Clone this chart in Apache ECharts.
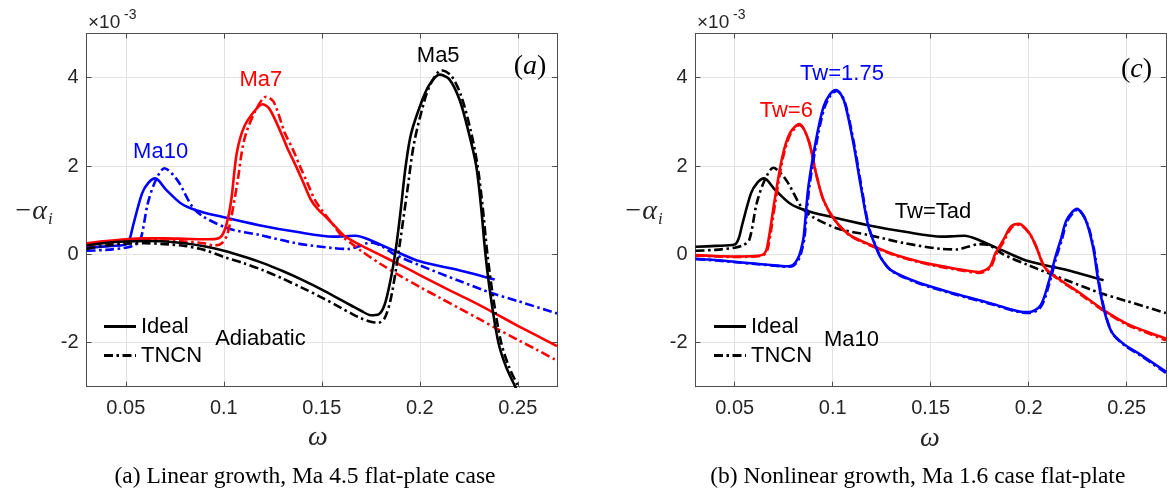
<!DOCTYPE html>
<html><head><meta charset="utf-8">
<script src="https://cdn.jsdelivr.net/npm/echarts@6.0.0/dist/echarts.min.js"></script>
<style>html,body{margin:0;padding:0;background:#fff}#c{width:1167px;height:497px}</style>
</head><body><div id="c"></div>
<script>
// ---------- data (values ×10^-3) ----------
// Panel (a): Linear growth, Ma 4.5 flat-plate, adiabatic
const ma5IdealX = [0.03,0.04,0.05,0.06,0.07,0.08,0.09,0.1,0.11,0.12,0.13,0.14,0.15,0.16,0.165,0.17,0.175,0.179,0.182,0.185,0.1877,0.19,0.1928,0.1956,0.2013,0.205,0.21,0.215,0.2203,0.225,0.2288,0.2312,0.2335,0.2363,0.2401,0.244,0.2487,0.252];
const ma5IdealY = [0.2,0.26,0.29,0.3,0.29,0.25,0.18,0.08,-0.05,-0.2,-0.38,-0.58,-0.8,-1.04,-1.16,-1.28,-1.38,-1.36,-1.15,-0.6,0.1,0.9,2.0,2.74,3.5,3.85,4.07,3.97,3.5,2.75,2.0,1.1,0.0,-1.0,-2.0,-2.55,-3.0,-3.3];
const ma5TncnX = [0.03,0.04,0.05,0.06,0.07,0.08,0.09,0.1,0.11,0.12,0.13,0.14,0.15,0.16,0.165,0.17,0.175,0.179,0.182,0.185,0.188,0.19,0.1935,0.197,0.2025,0.206,0.211,0.216,0.221,0.226,0.2295,0.232,0.2345,0.2375,0.2415,0.2455,0.2502,0.253];
const ma5TncnY = [0.12,0.2,0.24,0.25,0.23,0.19,0.1,-0.06,-0.2,-0.36,-0.55,-0.76,-0.98,-1.22,-1.34,-1.45,-1.53,-1.55,-1.45,-1.05,-0.3,0.3,1.4,2.5,3.5,3.9,4.17,4.05,3.6,2.8,2.0,1.1,0.0,-1.0,-2.0,-2.55,-3.0,-3.3];
const ma7IdealX = [0.03,0.04,0.05,0.06,0.07,0.08,0.09,0.096,0.099,0.1015,0.1038,0.1066,0.1104,0.1161,0.1199,0.1235,0.1293,0.133,0.137,0.141,0.1445,0.148,0.152,0.157,0.1615,0.17,0.18,0.19,0.2,0.21,0.22,0.23,0.24,0.25,0.26,0.27];
const ma7IdealY = [0.25,0.3,0.34,0.36,0.36,0.35,0.34,0.35,0.42,0.7,1.23,2.29,2.89,3.27,3.4,3.28,2.74,2.35,1.98,1.58,1.23,1.02,0.85,0.62,0.42,0.2,-0.02,-0.24,-0.47,-0.7,-0.92,-1.14,-1.38,-1.62,-1.85,-2.08];
const ma7TncnX = [0.03,0.04,0.05,0.06,0.07,0.08,0.09,0.095,0.099,0.102,0.1066,0.1104,0.1161,0.1217,0.1255,0.1312,0.135,0.139,0.143,0.1465,0.15,0.1535,0.157,0.16,0.165,0.17,0.18,0.19,0.2,0.21,0.22,0.23,0.24,0.25,0.26,0.27];
const ma7TncnY = [0.2,0.26,0.3,0.32,0.31,0.29,0.25,0.2,0.25,0.48,1.53,2.59,3.25,3.57,3.45,2.74,2.4,1.98,1.58,1.23,1.0,0.8,0.6,0.42,0.25,0.08,-0.22,-0.49,-0.74,-0.98,-1.22,-1.46,-1.7,-1.94,-2.17,-2.41];
const ma10IdealX = [0.03,0.04,0.05,0.052,0.0536,0.0583,0.0615,0.065,0.0706,0.0782,0.0858,0.099,0.118,0.1369,0.1559,0.162,0.1672,0.1748,0.186,0.2,0.22,0.2382];
const ma10IdealY = [0.15,0.18,0.22,0.35,0.63,1.38,1.62,1.72,1.46,1.15,1.0,0.85,0.66,0.51,0.4,0.41,0.42,0.32,0.1,-0.16,-0.36,-0.57];
const ma10TncnX = [0.03,0.04,0.05,0.054,0.0574,0.0612,0.065,0.0697,0.0763,0.0839,0.0896,0.1028,0.118,0.1369,0.1559,0.1634,0.169,0.1748,0.18,0.187,0.2,0.22,0.2373,0.25,0.27];
const ma10TncnY = [0.08,0.1,0.15,0.2,0.32,1.15,1.65,1.95,1.68,1.08,0.85,0.58,0.44,0.25,0.14,0.12,0.18,0.27,0.2,0.0,-0.25,-0.6,-0.89,-1.06,-1.34];

// Panel (c): Ma10, wall temperature
const tadIdealX = [0.03,0.04,0.05,0.052,0.0536,0.0583,0.0615,0.065,0.0706,0.0782,0.0858,0.099,0.118,0.1369,0.1559,0.162,0.1672,0.1748,0.186,0.2,0.22,0.2382];
const tadIdealY = [0.17,0.19,0.22,0.35,0.63,1.38,1.62,1.72,1.46,1.15,1.0,0.85,0.66,0.51,0.4,0.41,0.42,0.32,0.1,-0.16,-0.36,-0.59];
const tadTncnX = [0.03,0.04,0.05,0.054,0.0574,0.0612,0.065,0.0697,0.0763,0.0839,0.0896,0.1028,0.118,0.1369,0.1559,0.1634,0.169,0.1748,0.18,0.187,0.2,0.22,0.2373,0.25,0.27];
const tadTncnY = [0.08,0.1,0.15,0.2,0.32,1.15,1.65,1.96,1.68,1.08,0.85,0.58,0.44,0.25,0.12,0.11,0.17,0.23,0.2,0.0,-0.25,-0.6,-0.89,-1.06,-1.33];
const tw6IdealX = [0.03,0.04,0.05,0.06,0.0647,0.0666,0.0704,0.0743,0.0781,0.0829,0.0876,0.0915,0.0953,0.101,0.1086,0.12,0.13,0.143,0.152,0.162,0.1745,0.18,0.183,0.187,0.191,0.195,0.2003,0.2041,0.208,0.2137,0.2252,0.2385,0.25,0.26,0.27];
const tw6IdealY = [-0.02,-0.04,-0.05,-0.04,0.0,0.17,1.23,2.21,2.74,2.95,2.59,1.83,1.23,0.78,0.44,0.2,0.02,-0.15,-0.24,-0.32,-0.4,-0.29,0.02,0.32,0.63,0.69,0.48,0.14,-0.29,-0.51,-0.85,-1.27,-1.57,-1.75,-1.91];
const tw6TncnX = [0.03,0.04,0.05,0.06,0.065,0.067,0.0708,0.0746,0.0784,0.0831,0.0878,0.0917,0.0955,0.1012,0.1088,0.1202,0.1302,0.1432,0.1522,0.1622,0.1747,0.1803,0.1834,0.1874,0.1913,0.1952,0.2005,0.2044,0.2083,0.214,0.2255,0.2388,0.2503,0.2603,0.27];
const tw6TncnY = [-0.03,-0.05,-0.06,-0.05,-0.01,0.15,1.2,2.18,2.72,2.93,2.57,1.8,1.2,0.76,0.42,0.18,0.0,-0.17,-0.26,-0.34,-0.42,-0.31,0.0,0.3,0.61,0.67,0.46,0.12,-0.31,-0.53,-0.88,-1.3,-1.6,-1.78,-1.95];
const tw175IdealX = [0.03,0.04,0.05,0.06,0.07,0.076,0.0795,0.0822,0.0838,0.0852,0.0876,0.0915,0.0953,0.0985,0.1016,0.1045,0.1067,0.1106,0.1144,0.1182,0.122,0.1245,0.1297,0.143,0.1621,0.1812,0.1946,0.2003,0.206,0.21,0.2137,0.2165,0.2194,0.2246,0.229,0.2328,0.2357,0.2385,0.2423,0.2481,0.2576,0.27];
const tw175IdealY = [-0.1,-0.13,-0.17,-0.21,-0.25,-0.27,-0.25,-0.1,0.1,0.4,1.53,2.59,3.34,3.62,3.72,3.6,3.34,2.51,1.53,0.63,0.17,-0.08,-0.36,-0.63,-0.89,-1.12,-1.29,-1.31,-1.16,-0.66,-0.05,0.35,0.78,1.03,0.78,0.17,-0.66,-1.27,-1.76,-2.02,-2.29,-2.66];
const tw175TncnX = [0.0304,0.0404,0.0504,0.0604,0.0704,0.0764,0.0799,0.0826,0.0842,0.0856,0.088,0.0919,0.0957,0.0989,0.102,0.1049,0.1071,0.111,0.1148,0.1186,0.1224,0.1249,0.1301,0.1434,0.1625,0.1816,0.195,0.2007,0.2064,0.2104,0.2141,0.2169,0.2198,0.225,0.2294,0.2332,0.2361,0.2389,0.2427,0.2485,0.258,0.27];
const tw175TncnY = [-0.11,-0.14,-0.18,-0.22,-0.26,-0.28,-0.26,-0.12,0.08,0.38,1.5,2.56,3.31,3.6,3.7,3.58,3.31,2.48,1.5,0.6,0.14,-0.1,-0.38,-0.65,-0.91,-1.14,-1.31,-1.33,-1.18,-0.68,-0.07,0.33,0.76,1.01,0.76,0.14,-0.69,-1.3,-1.79,-2.05,-2.32,-2.69];

const xTickMin = 0.03, xTickMax = 0.27, yMin = -3, yMax = 5;
const legendNames = ['Ideal', 'TNCN'];

// ---------- chart ----------
const chart = echarts.init(document.getElementById('c'), null, {renderer: 'canvas'});
const AX = '#4d4d4d', GRIDC = '#e3e3e3', TXT = '#262626';
const SANS = "'Liberation Sans', Arial, Helvetica, sans-serif";
const SERIF = "'Liberation Serif', 'Times New Roman', serif";
const SOLID = 'solid', DASHDOT = [9, 3.5, 2.5, 3.5];

const grids = [
  {left: 86.6, top: 33.6, width: 470.4, height: 353.1},
  {left: 695.5, top: 33.6, width: 470.4, height: 353.1}
];
const xAxes = [], yAxes = [];
grids.forEach((g, gi) => {
  xAxes.push({gridIndex: gi, type: 'value', min: xTickMin, max: xTickMax, position: 'bottom', splitNumber: 5,
    axisLine: {show: true, onZero: false, lineStyle: {color: AX, width: 1}},
    axisTick: {show: true, inside: true, length: 5, lineStyle: {color: AX}},
    axisLabel: {show: true, showMinLabel: false, showMaxLabel: false, margin: 12, fontSize: 20, fontFamily: SANS, color: TXT,
      formatter: v => String(+(+v).toFixed(2))},
    splitLine: {show: true, lineStyle: {color: GRIDC, width: 1}}});
  xAxes.push({gridIndex: gi, type: 'value', min: xTickMin, max: xTickMax, position: 'top', splitNumber: 5,
    axisLine: {show: true, onZero: false, lineStyle: {color: AX, width: 1}},
    axisTick: {show: true, inside: true, length: 5, lineStyle: {color: AX}},
    axisLabel: {show: false}, splitLine: {show: false}});
  yAxes.push({gridIndex: gi, type: 'value', min: yMin, max: yMax, position: 'left', splitNumber: 5,
    axisLine: {show: true, onZero: false, lineStyle: {color: AX, width: 1}},
    axisTick: {show: true, inside: true, length: 5, lineStyle: {color: AX}},
    axisLabel: {show: true, showMinLabel: false, showMaxLabel: false, margin: 8, fontSize: 20, fontFamily: SANS, color: TXT,
      formatter: v => String(v)},
    splitLine: {show: true, lineStyle: {color: GRIDC, width: 1}}});
  yAxes.push({gridIndex: gi, type: 'value', min: yMin, max: yMax, position: 'right', splitNumber: 5,
    axisLine: {show: true, onZero: false, lineStyle: {color: AX, width: 1}},
    axisTick: {show: true, inside: true, length: 5, lineStyle: {color: AX}},
    axisLabel: {show: false}, splitLine: {show: false}});
});

function pairs(xs, ys) { return xs.map((x, i) => [x, ys[i]]); }
function line(name, gi, xs, ys, color, type, z) {
  return {name, type: 'line', xAxisIndex: gi * 2, yAxisIndex: gi * 2, data: pairs(xs, ys),
    showSymbol: false, symbol: 'none', smooth: 0.3, clip: true, silent: true, z: z || 2,
    lineStyle: {color, width: 2.6, type, join: 'round', cap: 'butt'}, itemStyle: {color}};
}
const series = [
  line('Ma10 Ideal', 0, ma10IdealX, ma10IdealY, '#0000ff', SOLID, 2),
  line('Ma10 TNCN', 0, ma10TncnX, ma10TncnY, '#0000ff', DASHDOT, 2),
  line('Ma7 Ideal', 0, ma7IdealX, ma7IdealY, '#ff0000', SOLID, 3),
  line('Ma7 TNCN', 0, ma7TncnX, ma7TncnY, '#ff0000', DASHDOT, 3),
  line('Ma5 Ideal', 0, ma5IdealX, ma5IdealY, '#000000', SOLID, 4),
  line('Ma5 TNCN', 0, ma5TncnX, ma5TncnY, '#000000', DASHDOT, 4),
  line('Tw=Tad Ideal', 1, tadIdealX, tadIdealY, '#000000', SOLID, 2),
  line('Tw=Tad TNCN', 1, tadTncnX, tadTncnY, '#000000', DASHDOT, 2),
  line('Tw=6 Ideal', 1, tw6IdealX, tw6IdealY, '#ff0000', SOLID, 3),
  line('Tw=6 TNCN', 1, tw6TncnX, tw6TncnY, '#ff0000', DASHDOT, 3),
  line('Tw=1.75 Ideal', 1, tw175IdealX, tw175IdealY, '#0000ff', SOLID, 4),
  line('Tw=1.75 TNCN', 1, tw175TncnX, tw175TncnY, '#0000ff', DASHDOT, 4),
  line(legendNames[0], 0, [], [], '#000000', SOLID),
  line(legendNames[1], 0, [], [], '#000000', DASHDOT)
];

const ICON_SOLID = 'path://M0 0H32V3H0Z';
const ICON_DASHDOT = 'path://M0 0H9V3H0Z M12.5 0H15V3H12.5Z M18.5 0H27.5V3H18.5Z M31 0H32V3H31Z';
function legendAt(left) {
  return {left, top: 315, orient: 'vertical', itemWidth: 32, itemHeight: 3, itemGap: 6, padding: 0,
    selectedMode: false, symbolKeepAspect: false,
    data: [{name: legendNames[0], icon: ICON_SOLID}, {name: legendNames[1], icon: ICON_DASHDOT}],
    textStyle: {fontSize: 22, fontFamily: SANS, color: '#000', lineHeight: 23}};
}

function txt(x, y, s, o) {
  return {type: 'text', x, y, z: 100, silent: true, style: Object.assign({text: s, fontSize: 22, fontFamily: SANS, fill: '#000', align: 'center', verticalAlign: 'middle'}, o || {})};
}
const graphics = [
  // panel a
  txt(88, 23, '×10', {align: 'left', fontSize: 19, fill: TXT}),
  txt(124, 15, '-3', {align: 'left', fontSize: 14, fill: TXT}),
  txt(160.6, 152, 'Ma10', {fill: '#0000ff'}),
  txt(260.8, 80, 'Ma7', {fill: '#ff0000'}),
  txt(438.2, 56, 'Ma5'),
  txt(260.4, 339, 'Adiabatic'),
  txt(530, 67, '{p|(}{i|a}{p|)}', {rich: {p: {fontSize: 28, fontFamily: SERIF, fill: '#000'}, i: {fontSize: 28, fontFamily: SERIF, fontStyle: 'italic', fill: '#000'}}}),
  txt(47, 212, '−α', {align: 'right', fontSize: 28, fontFamily: SERIF, fontStyle: 'italic', fill: TXT}),
  txt(48, 220, 'i', {align: 'left', fontSize: 17, fontFamily: SERIF, fontStyle: 'italic', fill: TXT}),
  txt(318, 438, 'ω', {fontSize: 28, fontFamily: SERIF, fontStyle: 'italic', fill: TXT}),
  txt(305, 477, '(a) Linear growth, Ma 4.5 flat-plate case', {fontSize: 23.5, fontFamily: SERIF}),
  // panel c
  txt(697, 23, '×10', {align: 'left', fontSize: 19, fill: TXT}),
  txt(733, 15, '-3', {align: 'left', fontSize: 14, fill: TXT}),
  txt(842, 74, 'Tw=1.75', {fill: '#0000ff'}),
  txt(786.3, 111, 'Tw=6', {fill: '#ff0000'}),
  txt(933, 212, 'Tw=Tad'),
  txt(851.4, 340, 'Ma10'),
  txt(1136.5, 70, '{p|(}{i|c}{p|)}', {rich: {p: {fontSize: 28, fontFamily: SERIF, fill: '#000'}, i: {fontSize: 28, fontFamily: SERIF, fontStyle: 'italic', fill: '#000'}}}),
  txt(657, 212, '−α', {align: 'right', fontSize: 28, fontFamily: SERIF, fontStyle: 'italic', fill: TXT}),
  txt(658, 220, 'i', {align: 'left', fontSize: 17, fontFamily: SERIF, fontStyle: 'italic', fill: TXT}),
  txt(930, 439, 'ω', {fontSize: 28, fontFamily: SERIF, fontStyle: 'italic', fill: TXT}),
  txt(917.8, 477, '(b) Nonlinear growth, Ma 1.6 case flat-plate', {fontSize: 23.5, fontFamily: SERIF})
];

chart.setOption({
  animation: false,
  backgroundColor: '#ffffff',
  grid: grids,
  xAxis: xAxes,
  yAxis: yAxes,
  legend: [legendAt(104), legendAt(714)],
  series,
  graphic: graphics
});
</script></body></html>
